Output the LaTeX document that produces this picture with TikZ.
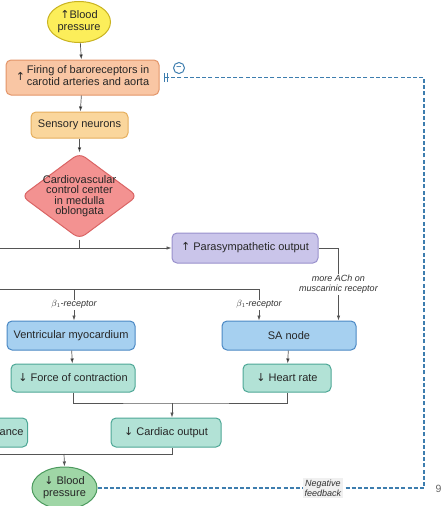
\documentclass[tikz,border=0pt]{standalone}
\usepackage{fontspec}
\setmainfont{Liberation Sans}
\newfontfamily\arrowfont{DejaVu Sans}
\usepackage{tikz}
\usetikzlibrary{positioning,shapes.geometric,arrows.meta}

\definecolor{bpyellow}{HTML}{FCEE5A}
\definecolor{bpyellowline}{HTML}{C9B320}
\definecolor{firefill}{HTML}{F9C6A4}
\definecolor{fireline}{HTML}{E39468}
\definecolor{sensefill}{HTML}{FAD69C}
\definecolor{senseline}{HTML}{E5AE5C}
\definecolor{ctrlfill}{HTML}{F39291}
\definecolor{ctrlline}{HTML}{DA6464}
\definecolor{parafill}{HTML}{CAC5EA}
\definecolor{paraline}{HTML}{9890CC}
\definecolor{heartfill}{HTML}{A6D0F0}
\definecolor{heartline}{HTML}{4A88C4}
\definecolor{effectfill}{HTML}{B2E2D6}
\definecolor{effectline}{HTML}{4DA796}
\definecolor{bpgreen}{HTML}{9FD6A6}
\definecolor{bpgreenline}{HTML}{4C9A5E}
\definecolor{fbblue}{HTML}{3D7DAE}
\definecolor{wire}{HTML}{555555}

\newcommand{\incr}{{\arrowfont\char"2191}}
\newcommand{\decr}{{\arrowfont\char"2193}}

\tikzset{
  box/.style={rectangle, rounded corners=5pt, draw, line width=1pt, align=center,
    text=black!85, font=\fontsize{11}{12}\selectfont, inner sep=0pt},
  bubble/.style={ellipse, draw, line width=1pt, align=center, inner sep=0pt,
    text=black!85, font=\fontsize{11}{12}\selectfont},
  rlabel/.style={fill=white, align=center, inner sep=1pt, text=black!80,
    font=\itshape\fontsize{9}{10.5}\selectfont},
  wired/.style={draw=wire, line width=0.7pt},
  tip/.style={-{Latex[length=5pt,width=3.5pt]}}
}

\begin{document}
\begin{tikzpicture}[x=1pt, y=-1pt]
      \useasboundingbox (0,0) rectangle (441,506);
      \clip (0,0) rectangle (441,506);

      \node[bubble, fill=bpyellow, draw=bpyellowline, minimum width=63, minimum height=41] (bpup) at (79,22) {\incr Blood\\pressure};
      \node[box, fill=firefill, draw=fireline, minimum width=153, minimum height=35] (fire) at (82.5,77.5)
        {\incr\,\begin{tabular}{@{}c@{}}Firing of baroreceptors in\\carotid arteries and aorta\end{tabular}};
      \node[box, fill=sensefill, draw=senseline, minimum width=97, minimum height=26] (sense) at (79.5,125) {Sensory neurons};
      \node[diamond, draw=ctrlline, fill=ctrlfill, line width=1pt, rounded corners=7pt, inner sep=0pt,
        minimum width=116, minimum height=86] (ctrl) at (79.5,196) {};
      \node[align=center, text=black!85, font=\fontsize{11}{10.5}\selectfont] (ctrltext) at (ctrl.center)
        {Cardiovascular\\control center\\in medulla\\oblongata};
      \node[box, fill=parafill, draw=paraline, minimum width=146, minimum height=30] (para) at (245,248) {\incr\ Parasympathetic output};

      \node[box, fill=heartfill, draw=heartline, minimum width=128, minimum height=29] (ventr) at (71,335.5) {Ventricular myocardium};
      \node[box, fill=heartfill, draw=heartline, minimum width=134, minimum height=29] (sanode) at (289,335.5) {SA node};
      \node[box, fill=effectfill, draw=effectline, minimum width=124, minimum height=28] (force) at (73,378) {\decr\ Force of contraction};
      \node[box, fill=effectfill, draw=effectline, minimum width=88, minimum height=28] (rate) at (287,378) {\decr\ Heart rate};
      \node[box, fill=effectfill, draw=effectline, minimum width=110, minimum height=29] (output) at (166,432.5) {\decr\ Cardiac output};
      \node[box, fill=effectfill, draw=effectline, minimum height=29, text width=56, align=right, inner xsep=4pt,
        anchor=east] (resist) at (28,432.5) {ance};
      \node[bubble, fill=bpgreen, draw=bpgreenline, minimum width=65, minimum height=42] (bpdown) at (64.5,488) {\decr\ Blood\\pressure};

      % afferent path
      \draw[wired] (bpup) edge[tip] (fire);
      \draw[wired] (fire) edge[tip] (sense);
      \draw[wired] (sense) edge[tip] (ctrl);

      % efferent outputs
      \coordinate (sympL) at (-5,248);
      \coordinate (betaL) at (-5,289);
      \coordinate (betaA) at (74,289);
      \coordinate (betaB) at (259,289);
      \draw[wired] (ctrl.south) -- (ctrl.south |- para.west);
      \draw[wired, tip] (sympL) -- (para.west);
      \draw[wired] (betaL) -- (betaB);
      \draw[wired, tip] (betaA) -- node[rlabel] {$\beta_1$-receptor} (betaA |- ventr.north);
      \draw[wired, tip] (betaB) -- node[rlabel] {$\beta_1$-receptor} (betaB |- sanode.north);
      \draw[wired, tip] (para.east) -- ++(20,0) coordinate (achbend)
        -- node[rlabel] {more ACh on\\muscarinic receptor} (achbend |- sanode.north);

      % effects
      \draw[wired] (ventr) edge[tip] (force);
      \draw[wired] (sanode) edge[tip] (rate);
      \coordinate (mergeA) at (172,403);
      \coordinate (mergeB) at (64,454);
      \coordinate (resistL) at (-5,454);
      \draw[wired] (force.south) |- (mergeA) -| (rate.south);
      \draw[wired, tip] (mergeA) -- (mergeA |- output.north);
      \draw[wired] (output.south -| mergeA) |- (resistL);
      \draw[wired, tip] (mergeB) -- (bpdown.north);

      % feedback loop
      \coordinate (fbcorner) at (424,488);
      \draw[fbblue, line width=1.1pt, dash pattern=on 4pt off 2.2pt,
        -{Bar[width=9pt,line width=1pt,sep=2pt] Bar[width=9pt,line width=1pt]}]
        (bpdown.east) -- node[pos=0.69, fill=black!6, inner sep=2pt, align=center, text=black!80,
          font=\itshape\fontsize{9}{10}\selectfont] (fblabel) {Negative\\feedback}
        (fbcorner) |- ([xshift=4pt]fire.east);
      \node[circle, draw=fbblue, text=fbblue, line width=1pt, inner sep=0pt, minimum size=11,
        font=\bfseries\fontsize{9}{9}\selectfont] (minus) at (179,68) {--};
      \node[text=black!60, font=\fontsize{10.5}{12}\selectfont, anchor=west] (pagenum) at (432,489) {9};
    \end{tikzpicture}
\end{document}
